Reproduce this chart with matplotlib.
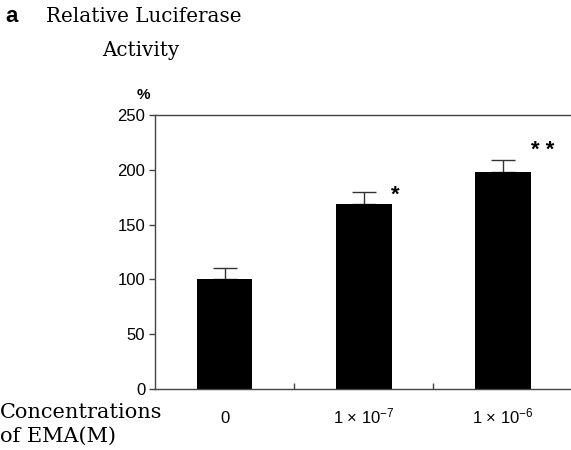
import matplotlib
matplotlib.use("Agg")
import matplotlib.pyplot as plt
import numpy as np

categories = ["0", r"1 × 10$^{\mathrm{-7}}$", r"1 × 10$^{\mathrm{-6}}$"]
values = [100, 169, 198]
errors = [10, 11, 11]
yticks = [0, 50, 100, 150, 200, 250]

plt.rcParams['mathtext.fontset'] = 'custom'
plt.rcParams['mathtext.rm'] = 'Liberation Sans'
plt.rcParams['mathtext.it'] = 'Liberation Sans:italic'
plt.rcParams['mathtext.bf'] = 'Liberation Sans:bold'

fig = plt.figure(figsize=(5.71, 4.5), dpi=100)
ax = fig.add_axes([155/571, 61/450, 416/571, 274/450])

x = np.arange(len(values))
ax.bar(x, values, width=0.40, color='black', zorder=2)
ax.errorbar(x, values, yerr=[np.zeros(len(values)), errors], fmt='none',
            ecolor='#333333', elinewidth=1, capsize=8.5, capthick=1, zorder=1)

ax.set_xlim(-0.5, 2.49)
ax.set_ylim(0, 250)
ax.set_yticks(yticks)
ax.set_yticklabels([str(t) for t in yticks], fontsize=12, family='Liberation Sans')
ax.set_xticks(x)
ax.set_xticklabels(categories, fontsize=12, family='Liberation Sans')
for lbl in ax.get_xticklabels():
    lbl.set_verticalalignment('baseline')
ax.tick_params(axis='x', length=0, pad=24.5)
ax.tick_params(axis='y', length=4, width=1, color='#444444', pad=3)
ax.set_xticks([0.5, 1.5], minor=True)
ax.tick_params(axis='x', which='minor', direction='in', length=4, width=1, color='#444444')

for s in ['left', 'top', 'bottom']:
    ax.spines[s].set_color('#444444')
    ax.spines[s].set_linewidth(1)
ax.spines['right'].set_visible(False)

ax.text(1.23, 177, "*", fontsize=16, fontweight='bold', family='Liberation Sans', ha='center', va='center')
ax.text(2.29, 218, "* *", fontsize=16, fontweight='bold', family='Liberation Sans', ha='center', va='center')

fig.text(12/571, 1 - 17/450, "a", fontsize=16, fontweight='bold', family='Liberation Sans', ha='center', va='center')
fig.text(46/571, 1 - 17/450, "Relative Luciferase", fontsize=14.3, family='DejaVu Serif', ha='left', va='center')
fig.text(102/571, 1 - 50/450, "Activity", fontsize=14.3, family='DejaVu Serif', ha='left', va='center')
fig.text(143/571, 1 - 95/450, "%", fontsize=11, fontweight='bold', family='Liberation Sans', ha='center', va='center')
fig.text(0, 1 - 412/450, "Concentrations", fontsize=15, family='DejaVu Serif', ha='left', va='center')
fig.text(0, 1 - 436/450, "of EMA(M)", fontsize=15, family='DejaVu Serif', ha='left', va='center')

fig.savefig("out.png", dpi=100)
